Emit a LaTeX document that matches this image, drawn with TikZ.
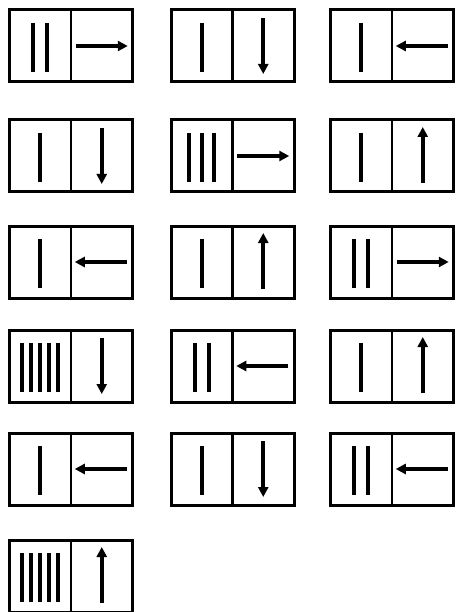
\documentclass[tikz,border=0pt]{standalone}
\usetikzlibrary{arrows.meta}
\tikzset{
  cellbox/.style={draw, line width=3pt, minimum width=123pt, minimum height=72pt, inner sep=0pt, outer sep=0pt},
  divider/.style={line width=2.6pt},
  bar/.style={line width=4.2pt, line cap=butt},
  arr/.style={line width=4pt, -{Triangle[width=10pt,length=10pt]}, shorten >=-1pt},
}
% name, cx, cy, nbars, spacing, arrow start offset, arrow end offset
\newcommand\cellbox[7]{%
  \node[cellbox] (#1) at (#2,#3) {};
  \draw[divider] (#1.north) -- (#1.south);
  \coordinate (#1l) at (#2-30.75,#3);
  \coordinate (#1r) at (#2+30.75,#3);
  \foreach \i in {1,...,#4} {
    \draw[bar] ([shift={({(\i-(#4+1)/2)*#5},-23)}]#1l) -- ([shift={({(\i-(#4+1)/2)*#5},26)}]#1l);
  }
  \draw[arr] ([shift={(#6)}]#1r) -- ([shift={(#7)}]#1r);
}
\begin{document}
\begin{tikzpicture}[x=1pt,y=-1pt]
\useasboundingbox (0,0) rectangle (455,612);
% row 1
\cellbox{a1}{71}{46}{2}{14}{-26,0}{25,0}
\cellbox{a2}{232.5}{46}{1}{0}{0,-28}{0,27}
\cellbox{a3}{392}{46}{1}{0}{25,0}{-26,0}
% row 2
\cellbox{b1}{71}{156}{1}{0}{0,-28}{0,27}
\cellbox{b2}{232.5}{156}{3}{12.5}{-26,0}{25,0}
\cellbox{b3}{392}{156}{1}{0}{0,27}{0,-28}
% row 3
\cellbox{c1}{71}{262}{1}{0}{25,0}{-26,0}
\cellbox{c2}{232.5}{262}{1}{0}{0,27}{0,-28}
\cellbox{c3}{392}{262}{2}{14}{-26,0}{25,0}
% row 4
\cellbox{d1}{71}{366}{5}{9}{0,-28}{0,27}
\cellbox{d2}{232.5}{366}{2}{14}{25,0}{-26,0}
\cellbox{d3}{392}{366}{1}{0}{0,27}{0,-28}
% row 5
\cellbox{e1}{71}{469}{1}{0}{25,0}{-26,0}
\cellbox{e2}{232.5}{469}{1}{0}{0,-28}{0,27}
\cellbox{e3}{392}{469}{2}{14}{25,0}{-26,0}
% row 6
\cellbox{f1}{71}{576}{5}{9}{0,27}{0,-28}
\end{tikzpicture}
\end{document}
